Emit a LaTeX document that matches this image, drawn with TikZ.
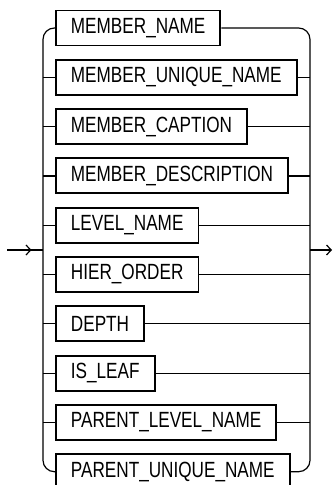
\documentclass[tikz,border=0pt]{standalone}
\usepackage{fontspec}
\setmainfont{Liberation Sans}[FakeStretch=0.78]
\usepackage{tikz}
\usetikzlibrary{arrows.meta, positioning, decorations.markings}

\begin{document}
\begin{tikzpicture}[
  x=0.75pt, y=-0.75pt,
  keybox/.style={draw, line width=1.4pt, anchor=west, inner xsep=11.25pt,
                 inner ysep=0pt, minimum height=26.25pt,
                 font=\fontsize{16.5}{19}\selectfont},
  rail/.style={line width=0.9pt},
  railcurve/.style={rail, rounded corners=8.5pt},
  entry/.style={rail, decoration={markings, mark=at position 0.68
                with {\arrow{Straight Barb[length=3.5pt, width=7.5pt]}}},
                postaction={decorate}},
  exitarrow/.style={rail, -{Straight Barb[length=3.5pt, width=7.5pt]}},
]
\useasboundingbox (0,0) rectangle (333,485);

% =================================================================
% RAILS
% =================================================================
\coordinate (in) at (7,250);
\coordinate (out) at (332,250);
\coordinate (lrail) at (43,0);
\coordinate (rrail) at (310,0);

% =================================================================
% KEYWORD BOXES
% =================================================================
\foreach \word [count=\i] in {MEMBER\_NAME, MEMBER\_UNIQUE\_NAME,
    MEMBER\_CAPTION, MEMBER\_DESCRIPTION, LEVEL\_NAME, HIER\_ORDER,
    DEPTH, IS\_LEAF, PARENT\_LEVEL\_NAME, PARENT\_UNIQUE\_NAME}
  \node[keybox] (m\i) at (55, {28+49.3*(\i-1)}) {\word};

% =================================================================
% CONNECTORS
% =================================================================
% first and last row round into the rails
\draw[railcurve] (m1.west) -- (m1.west -| lrail) -- (m10.west -| lrail)
  -- (m10.west);
\draw[railcurve] (m1.east) -- (m1.east -| rrail) -- (m10.east -| rrail)
  -- (m10.east);

% middle rows
\foreach \i in {2,...,9} {
  \draw[rail] (m\i.west -| lrail) -- (m\i.west);
  \draw[rail] (m\i.east) -- (m\i.east -| rrail);
}

% in and out
\draw[entry] (in) -- (in -| lrail);
\draw[exitarrow] (out -| rrail) -- (out);

\end{tikzpicture}
\end{document}
